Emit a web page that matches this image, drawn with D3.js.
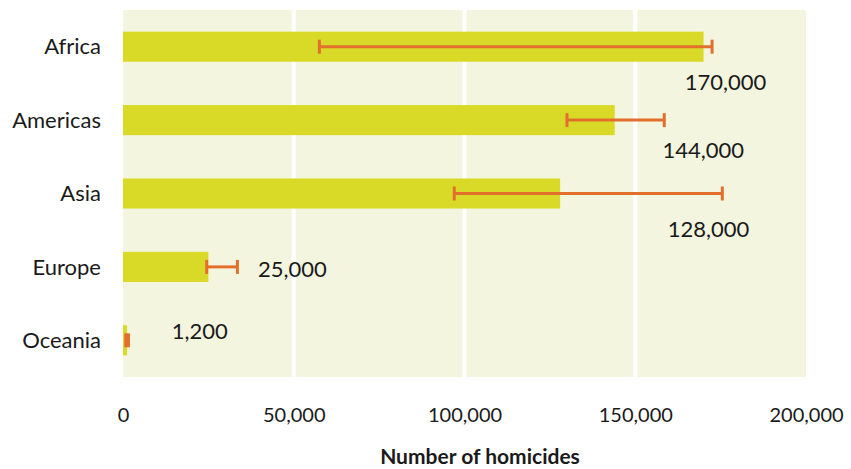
<!DOCTYPE html>
<html>
<head>
<meta charset="utf-8">
<script src="https://cdn.jsdelivr.net/npm/d3@7"></script>
<style>
  body { margin: 0; background: #fff; }
  text { font-family: Lato, "Open Sans", sans-serif; fill: #1a1a1a; }
</style>
</head>
<body>
<div id="chart"></div>
<script>
// данные
const regions = ['Africa', 'Americas', 'Asia', 'Europe', 'Oceania'];
const homicides = [170000, 144000, 128000, 25000, 1200];
const lowerBound = [57500, 130000, 97000, 24500, 800];
const upperBound = [172500, 158500, 175500, 33500, 1600];
const valueLabels = ['170,000', '144,000', '128,000', '25,000', '1,200'];
const xTicks = [0, 50000, 100000, 150000, 200000];

// где ставить подписи (левый край в единицах данных, и сдвиг по вертикали)
const labelAt = [
  { x: 164500, dy: 36 },
  { x: 158000, dy: 30 },
  { x: 159500, dy: 36 },
  { x: 39500, dy: 2 },
  { x: 14300, dy: -9 }
];

const width = 851;
const height = 469;
const margin = { top: 10, left: 123, right: 45, bottom: 92 };

const svg = d3.select('#chart')
  .append('svg')
  .attr('width', width)
  .attr('height', height);

const x = d3.scaleLinear()
  .domain([0, 200000])
  .range([margin.left, width - margin.right]);

const y = d3.scaleBand()
  .domain(regions)
  .range([margin.top, height - margin.bottom])
  .paddingInner(0.59)
  .paddingOuter(0.295);

// фон области графика
svg.append('rect')
  .attr('x', x(0))
  .attr('y', margin.top)
  .attr('width', x(200000) - x(0))
  .attr('height', height - margin.bottom - margin.top)
  .attr('fill', '#f3f5de');

// белые линии сетки
svg.selectAll('.grid')
  .data(xTicks.slice(1, -1))
  .enter().append('line')
  .attr('x1', d => x(d))
  .attr('x2', d => x(d))
  .attr('y1', margin.top)
  .attr('y2', height - margin.bottom)
  .attr('stroke', '#fff')
  .attr('stroke-width', 4);

// столбцы
svg.selectAll('.bar')
  .data(regions)
  .enter().append('rect')
  .attr('x', x(0))
  .attr('y', d => y(d))
  .attr('width', (d, i) => x(homicides[i]) - x(0))
  .attr('height', y.bandwidth())
  .attr('fill', '#d8da27');

// планки погрешностей
const errColor = '#e2702c';
const capH = 14;
regions.forEach((r, i) => {
  const cy = y(r) + y.bandwidth() / 2;
  const g = svg.append('g').attr('stroke', errColor).attr('stroke-width', 3);
  g.append('line')
    .attr('x1', x(lowerBound[i])).attr('x2', x(upperBound[i]))
    .attr('y1', cy).attr('y2', cy);
  [lowerBound[i], upperBound[i]].forEach(v => {
    g.append('line')
      .attr('x1', x(v)).attr('x2', x(v))
      .attr('y1', cy - capH / 2).attr('y2', cy + capH / 2);
  });
});

// подписи значений
svg.selectAll('.val')
  .data(regions)
  .enter().append('text')
  .attr('x', (d, i) => x(labelAt[i].x))
  .attr('y', (d, i) => y(d) + y.bandwidth() / 2 + labelAt[i].dy)
  .attr('dy', '0.35em')
  .attr('text-anchor', 'start')
  .style('font-size', '22px')
  .text((d, i) => valueLabels[i]);

// подписи категорий
svg.selectAll('.cat')
  .data(regions)
  .enter().append('text')
  .attr('x', 101)
  .attr('y', d => y(d) + y.bandwidth() / 2)
  .attr('dy', '0.35em')
  .attr('text-anchor', 'end')
  .style('font-size', '22px')
  .text(d => d);

// ось X
const xAxis = svg.append('g')
  .attr('transform', `translate(0,${height - margin.bottom})`)
  .call(d3.axisBottom(x).tickValues(xTicks).tickSize(0).tickPadding(31)
    .tickFormat(d3.format(',')));
xAxis.select('.domain').remove();
xAxis.selectAll('text')
  .style('font-size', '20px')
  .style('font-family', 'Lato, "Open Sans", sans-serif')
  .attr('fill', '#1a1a1a');

svg.append('text')
  .attr('x', 480)
  .attr('y', 457)
  .attr('dy', '0.35em')
  .attr('text-anchor', 'middle')
  .style('font-size', '21px')
  .style('font-weight', 'bold')
  .text('Number of homicides');
</script>
</body>
</html>
